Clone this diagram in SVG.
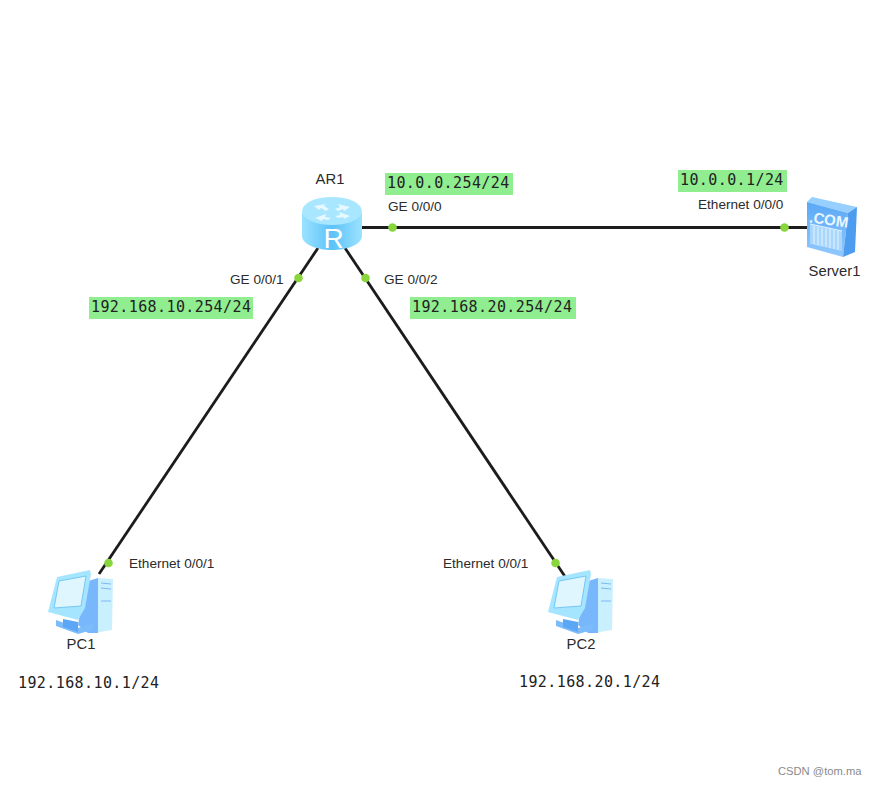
<svg xmlns="http://www.w3.org/2000/svg" xmlns:xlink="http://www.w3.org/1999/xlink" width="876" height="785" viewBox="0 0 876 785">
<style>
text{font-family:"Liberation Sans",Arial,sans-serif;font-size:13.6px;fill:#2b2b2b}
.ip{font-family:"DejaVu Sans Mono","Liberation Mono",monospace;font-size:15px;letter-spacing:.4px;fill:#222}
.lab{font-size:14.8px}
.hl{fill:#90ee90}
.link{stroke:#1c1c1c;stroke-width:2.8;fill:none}
.dot{fill:#88d63c}
</style>
<defs>
<linearGradient id="rt" x1="0" y1="0" x2="1" y2="0"><stop offset="0" stop-color="#9be2ff"/><stop offset=".5" stop-color="#5cc2f8"/><stop offset="1" stop-color="#9be2ff"/></linearGradient>
<linearGradient id="srv" x1="0" y1="0" x2="0" y2="1"><stop offset="0" stop-color="#5aa8f6"/><stop offset="1" stop-color="#93c9fd"/></linearGradient>
<g id="pc">
<path d="M50 8 L65 9 L64 60 L46 63Z" fill="#c9f0ff"/>
<path d="M37 12 L50 8 L50 63 L40 63 L30 55Z" fill="#78b7fb"/>
<path d="M53 13 L63 14 M53 18 L63 19 M53 31 L63 31" stroke="#7db9f0" stroke-width="1" fill="none"/>
<path d="M8 50 L30 58 L46 53 L44 60 L30 64 L8 56Z" fill="#7cbcfb"/>
<path d="M15 49 L30 52 L30 62 L15 57Z" fill="#5ca7f5"/>
<path d="M0 42 L9 7 L42 0 L43 4 L37 38 L30 50 Z" fill="#a6e5ff"/>
<path d="M11 11 L38 6 L33 36 L6 38Z" fill="#dff6ff" stroke="#74c8f4" stroke-width="1"/>
</g>
</defs>
<rect width="876" height="785" fill="#fff"/>
<g id="connectors">
<path class="link" d="M358 227.500H808"/>
<path class="link" d="M318 248L99 574"/>
<path class="link" d="M345 248L566 578"/>
<circle class="dot" cx="392.500" cy="227.500" r="4.300"/>
<circle class="dot" cx="784.500" cy="227.500" r="4.300"/>
<circle class="dot" cx="298.500" cy="278" r="4.300"/>
<circle class="dot" cx="365.500" cy="278" r="4.300"/>
<circle class="dot" cx="108.500" cy="563" r="4.300"/>
<circle class="dot" cx="555.500" cy="563" r="4.300"/>
<text x="388" y="211">GE 0/0/0</text>
<text x="698" y="209">Ethernet 0/0/0</text>
<text x="230" y="284">GE 0/0/1</text>
<text x="384" y="284">GE 0/0/2</text>
<text x="129" y="568">Ethernet 0/0/1</text>
<text x="443" y="568">Ethernet 0/0/1</text>
</g>
<g id="AR1">
<path d="M302 213V236C302 244 316 250 332 250C348 250 362 244 362 236V213Z" fill="url(#rt)"/>
<ellipse cx="332" cy="211" rx="30" ry="14" fill="#a9e6ff"/>
<path d="M314 206l12-2-2 2 5 3-3 2-5-3-2 2zM350 207l-12-3 2 3-5 2 3 2 5-2 1 2zM315 218l11-4-1 3 6 1-3 2-5-1-1 2zM350 216l-11-4 1 3-5 1 3 2 5-1 1 2z" fill="#e8f8ff"/>
<text x="333.500" y="248" text-anchor="middle" style="font-size:28px;fill:#fff">R</text>
<text x="330" y="184" text-anchor="middle" class="lab">AR1</text>
</g>
<g id="Server1">
<path d="M812 197L857 207L848 213L807 202Z" fill="#97cfff"/>
<path d="M807 202L848 213L843 257L807 247Z" fill="url(#srv)"/>
<path d="M848 213L857 207L855 252L843 257Z" fill="#4c9cef"/>
<path d="M810 224L842 231V251L810 244Z" fill="#a9d6fc"/>
<path d="M810 224L842 231M814 226V244M818 227V245M822 228V246M826 229V247M830 229V248M834 230V249M838 231V250" stroke="#e6f5ff" stroke-width="1" fill="none"/>
<text x="829" y="225" text-anchor="middle" transform="rotate(8 829 219)" style="font-size:15px;font-weight:bold;fill:#eaf7ff">.COM</text>
<text x="834.500" y="276" text-anchor="middle" class="lab">Server1</text>
</g>
<g id="PC1">
<use xlink:href="#pc" href="#pc" x="48" y="570"/>
<text x="81" y="649" text-anchor="middle" class="lab">PC1</text>
</g>
<g id="PC2">
<use xlink:href="#pc" href="#pc" x="548" y="570"/>
<text x="581" y="649" text-anchor="middle" class="lab">PC2</text>
</g>
<g id="ip-labels">
<rect class="hl" x="385" y="173" width="128" height="22"/>
<text class="ip" x="387" y="188">10.0.0.254/24</text>
<rect class="hl" x="678" y="170" width="109" height="22"/>
<text class="ip" x="680" y="185">10.0.0.1/24</text>
<rect class="hl" x="89" y="297" width="164" height="22"/>
<text class="ip" x="91" y="312">192.168.10.254/24</text>
<rect class="hl" x="410" y="297" width="166" height="22"/>
<text class="ip" x="412" y="312">192.168.20.254/24</text>
<text class="ip" x="18" y="688">192.168.10.1/24</text>
<text class="ip" x="519" y="687">192.168.20.1/24</text>
</g>
<text x="778" y="775" style="font-size:11.200px;fill:#8a8a8a">CSDN @tom.ma</text>
</svg>
